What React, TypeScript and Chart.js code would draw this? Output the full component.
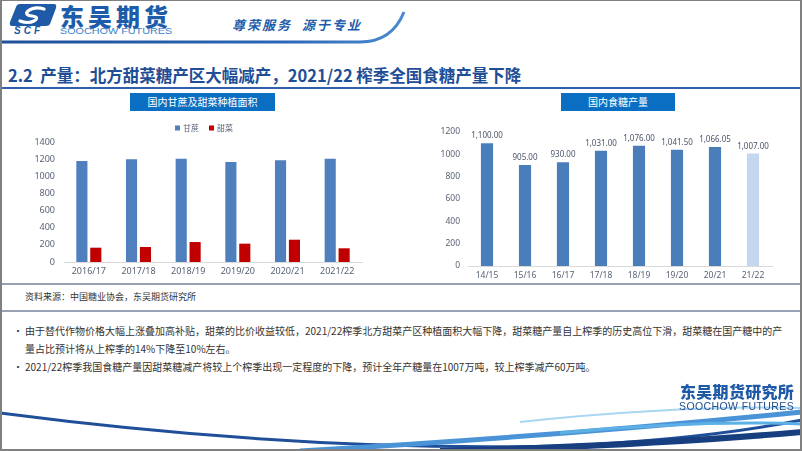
import React, { useEffect, useRef } from "react";
import { Chart, registerables } from "chart.js";

Chart.register(...registerables);

// ---------- data ----------
const areaCategories = ["2016/17", "2017/18", "2018/19", "2019/20", "2020/21", "2021/22"];
const caneArea = [1178, 1198, 1206, 1167, 1186, 1206];
const beetArea = [167, 175, 233, 214, 260, 160];
const areaSeriesNames = ["甘蔗", "甜菜"];

const outputCategories = ["14/15", "15/16", "16/17", "17/18", "18/19", "19/20", "20/21", "21/22"];
const sugarOutput = [1100, 905, 930, 1031, 1076, 1041.5, 1066.05, 1007];

const CJK = "'Noto Sans CJK SC', 'Noto Sans', sans-serif";
const NUM = "'Noto Sans', 'Noto Sans CJK SC', sans-serif";
const TICK_COLOR = "#586376";

const miniLegend = {
  id: "miniLegend",
  afterDraw(chart: any) {
    const ctx = chart.ctx;
    const ds = chart.data.datasets;
    ctx.save();
    ctx.font = `8px ${CJK}`;
    ctx.textBaseline = "middle";
    const box = 5;
    const gap = 3;
    const itemGap = 10;
    const widths = ds.map((d: any) => box + gap + ctx.measureText(d.label).width);
    const total = widths.reduce((a: number, b: number) => a + b, 0) + itemGap * (ds.length - 1);
    let x = chart.width / 2 + 4 - total / 2;
    const y = 13;
    ds.forEach((d: any, i: number) => {
      ctx.fillStyle = d.backgroundColor;
      ctx.fillRect(x, y - box / 2, box, box);
      ctx.fillStyle = TICK_COLOR;
      ctx.fillText(d.label, x + box + gap, y);
      x += widths[i] + itemGap;
    });
    ctx.restore();
  },
};

const valueLabels = {
  id: "valueLabels",
  afterDatasetsDraw(chart: any) {
    const ctx = chart.ctx;
    const meta = chart.getDatasetMeta(0);
    const data = chart.data.datasets[0].data;
    ctx.save();
    ctx.font = `8px ${NUM}`;
    ctx.fillStyle = "#4a5568";
    ctx.textAlign = "center";
    ctx.textBaseline = "bottom";
    meta.data.forEach((bar: any, i: number) => {
      const v = data[i] as number;
      const s = v.toLocaleString("en-US", { minimumFractionDigits: 2, maximumFractionDigits: 2 });
      ctx.fillText(s, bar.x, bar.y - 3);
    });
    ctx.restore();
  },
};

const plainTick = (v: any) => String(v);

function AreaChart() {
  const ref = useRef<HTMLCanvasElement>(null);
  useEffect(() => {
    const chart = new Chart(ref.current!, {
      type: "bar",
      data: {
        labels: areaCategories,
        datasets: [
          { label: areaSeriesNames[0], data: caneArea, backgroundColor: "#4f7fbd" },
          { label: areaSeriesNames[1], data: beetArea, backgroundColor: "#c00000" },
        ],
      },
      options: {
        responsive: false,
        animation: false,
        devicePixelRatio: 1,
        layout: { padding: { top: 27, right: 38, left: 0, bottom: 0 } },
        plugins: { legend: { display: false }, tooltip: { enabled: false } },
        datasets: { bar: { categoryPercentage: 0.56, barPercentage: 0.8 } },
        scales: {
          x: {
            grid: { display: false, drawTicks: false },
            border: { display: true, color: "#d9d9d9" },
            ticks: { font: { size: 9, family: NUM }, color: TICK_COLOR, padding: 4, autoSkip: false, maxRotation: 0 },
            afterFit: (s: any) => { s.height = 20; },
          },
          y: {
            min: 0,
            max: 1400,
            grid: { display: false, drawTicks: false },
            border: { display: false },
            ticks: { stepSize: 200, font: { size: 9, family: NUM }, color: TICK_COLOR, padding: 9, callback: plainTick },
            afterFit: (s: any) => { s.width = 64; },
          },
        },
      } as any,
      plugins: [miniLegend],
    });
    return () => chart.destroy();
  }, []);
  return <canvas ref={ref} width={400} height={167} style={{ position: "absolute", left: 0, top: 115 }} />;
}

function OutputChart() {
  const ref = useRef<HTMLCanvasElement>(null);
  useEffect(() => {
    const colors = sugarOutput.map((_, i) => (i === sugarOutput.length - 1 ? "#c5d6ef" : "#4a7ebb"));
    const chart = new Chart(ref.current!, {
      type: "bar",
      data: {
        labels: outputCategories,
        datasets: [{ label: "国内食糖产量", data: sugarOutput, backgroundColor: colors }],
      },
      options: {
        responsive: false,
        animation: false,
        devicePixelRatio: 1,
        layout: { padding: { top: 17, right: 30, left: 0, bottom: 0 } },
        plugins: { legend: { display: false }, tooltip: { enabled: false } },
        datasets: { bar: { categoryPercentage: 0.8, barPercentage: 0.4 } },
        scales: {
          x: {
            grid: { display: false, drawTicks: false },
            border: { display: true, color: "#d9d9d9" },
            ticks: { font: { size: 8.5, family: NUM }, color: TICK_COLOR, padding: 4, autoSkip: false, maxRotation: 0 },
            afterFit: (s: any) => { s.height = 20; },
          },
          y: {
            min: 0,
            max: 1200,
            grid: { display: false, drawTicks: false },
            border: { display: false },
            ticks: { stepSize: 200, font: { size: 8.5, family: NUM }, color: TICK_COLOR, padding: 8, callback: plainTick },
            afterFit: (s: any) => { s.width = 68; },
          },
        },
      } as any,
      plugins: [valueLabels],
    });
    return () => chart.destroy();
  }, []);
  return <canvas ref={ref} width={402} height={171} style={{ position: "absolute", left: 400, top: 115 }} />;
}

const abs = (s: React.CSSProperties): React.CSSProperties => ({ position: "absolute", ...s });

function Header() {
  return (
    <>
      <svg width={802} height={60} style={abs({ left: 0, top: 0 })}>
        <defs>
          <linearGradient id="hg" x1="0" x2="1" y1="0" y2="0">
            <stop offset="0" stopColor="#1f4f98" />
            <stop offset="0.7" stopColor="#2a66b5" />
            <stop offset="1" stopColor="#4a8ad0" />
          </linearGradient>
        </defs>
        <path d="M20 4 H54 Q57 4 56 8 L50 24 Q49 26 46 26 H12 Q9 26 10 22 L16 7 Q17 4 20 4 Z" fill="#1f5aa6" />
        <path d="M44 9 Q34 6 28 11 Q24 15 32 16 Q40 17 34 21 Q28 24 20 21" stroke="#ffffff" strokeWidth={3.2} fill="none" strokeLinecap="round" />
        <path d="M0 42 H360 Q392 42 404 12" stroke="url(#hg)" strokeWidth={3} fill="none" />
      </svg>
      <div style={abs({ left: 14, top: 26, fontFamily: "'Liberation Sans', sans-serif", fontWeight: 900, fontSize: 10, color: "#1f5aa6", letterSpacing: 3, fontStyle: "italic", lineHeight: "10px" })}>SCF</div>
      <div style={abs({ left: 60, top: 1, fontFamily: CJK, fontWeight: 900, fontSize: 24, color: "#1d5cab", letterSpacing: 4, lineHeight: "30px", whiteSpace: "nowrap" })}>东吴期货</div>
      <div style={abs({ left: 60, top: 26, fontFamily: "'Liberation Sans', sans-serif", fontSize: 9, color: "#3b82c8", lineHeight: "10px", whiteSpace: "nowrap", transform: "scaleX(1.2)", transformOrigin: "left" })}>SOOCHOW FUTURES</div>
      <div style={abs({ left: 232, top: 17, fontFamily: CJK, fontWeight: 700, fontStyle: "italic", fontSize: 13, color: "#1d5cab", letterSpacing: 2, lineHeight: "16px", whiteSpace: "nowrap" })}>尊荣服务&nbsp;&nbsp;源于专业</div>
    </>
  );
}

function Footer() {
  return (
    <>
      <svg width={802} height={451} style={abs({ left: 0, top: 0 })}>
        <path d="M0 413 Q300 452 560 446 Q700 440 802 420" stroke="#1f4f98" strokeWidth={3} fill="none" />
        <path d="M300 451 Q560 436 802 412" stroke="#4a93d6" strokeWidth={5} fill="none" />
        <path d="M520 422 Q680 405 802 408" stroke="#a9d6f2" strokeWidth={2} fill="none" />
        <path d="M560 433 Q700 420 802 424" stroke="#5db0e6" strokeWidth={3} fill="none" />
        <path d="M440 451 Q640 446 802 432" stroke="#173f80" strokeWidth={6} fill="none" />
      </svg>
      <div style={abs({ left: 680, top: 381, fontFamily: CJK, fontWeight: 900, fontSize: 16, color: "#1f5aa6", lineHeight: "20px", whiteSpace: "nowrap", letterSpacing: 0.3 })}>东吴期货研究所</div>
      <div style={abs({ left: 679, top: 400, fontFamily: "'Liberation Sans', sans-serif", fontSize: 10.5, color: "#1e4c8c", lineHeight: "12px", whiteSpace: "nowrap", letterSpacing: 0.4 })}>SOOCHOW FUTURES</div>
    </>
  );
}

export default function App() {
  const textStyle: React.CSSProperties = { fontFamily: CJK, fontSize: 10, color: "#333333", whiteSpace: "nowrap", lineHeight: "14px" };
  return (
    <div style={abs({ left: 0, top: 0, width: 802, height: 451, background: "#ffffff", overflow: "hidden" })}>
      <Header />
      <div style={abs({ left: 8, top: 63, fontFamily: CJK, fontWeight: 700, fontSize: 16.5, color: "#1f4e96", lineHeight: "24px", whiteSpace: "nowrap" })}>
        2.2&nbsp;&nbsp;产量：北方甜菜糖产区大幅减产，2021/22 榨季全国食糖产量下降
      </div>
      <div style={abs({ left: 0, top: 87, width: 802, height: 2, background: "#2f5fa8" })} />

      <div style={abs({ left: 130, top: 93, width: 145, height: 18, background: "#0a6fc2", color: "#fff", fontFamily: CJK, fontSize: 10, lineHeight: "18px", textAlign: "center" })}>国内甘蔗及甜菜种植面积</div>
      <div style={abs({ left: 561, top: 93, width: 114, height: 18, background: "#0a6fc2", color: "#fff", fontFamily: CJK, fontSize: 10, lineHeight: "18px", textAlign: "center" })}>国内食糖产量</div>

      <AreaChart />
      <OutputChart />

      <div style={abs({ left: 0, top: 283, width: 802, height: 2, background: "#98a2b6" })} />
      <div style={abs({ left: 25, top: 290, ...textStyle, fontSize: 9 })}>资料来源：中国糖业协会，东吴期货研究所</div>
      <div style={abs({ left: 0, top: 310, width: 802, height: 2, background: "#98a2b6" })} />

      <div style={abs({ left: 13, top: 324, ...textStyle })}>•</div>
      <div style={abs({ left: 25, top: 324, ...textStyle })}>由于替代作物价格大幅上涨叠加高补贴，甜菜的比价收益较低，2021/22榨季北方甜菜产区种植面积大幅下降，甜菜糖产量自上榨季的历史高位下滑，甜菜糖在国产糖中的产</div>
      <div style={abs({ left: 25, top: 342, ...textStyle })}>量占比预计将从上榨季的14%下降至10%左右。</div>
      <div style={abs({ left: 13, top: 360, ...textStyle })}>•</div>
      <div style={abs({ left: 25, top: 360, ...textStyle })}>2021/22榨季我国食糖产量因甜菜糖减产将较上个榨季出现一定程度的下降，预计全年产糖量在1007万吨，较上榨季减产60万吨。</div>

      <Footer />
      <div style={abs({ left: 0, top: 0, width: 802, height: 451, boxSizing: "border-box", borderTop: "1px solid #808080", borderLeft: "2px solid #808080", borderRight: "2px solid #808080", borderBottom: "2px solid #808080", pointerEvents: "none" })} />
    </div>
  );
}
